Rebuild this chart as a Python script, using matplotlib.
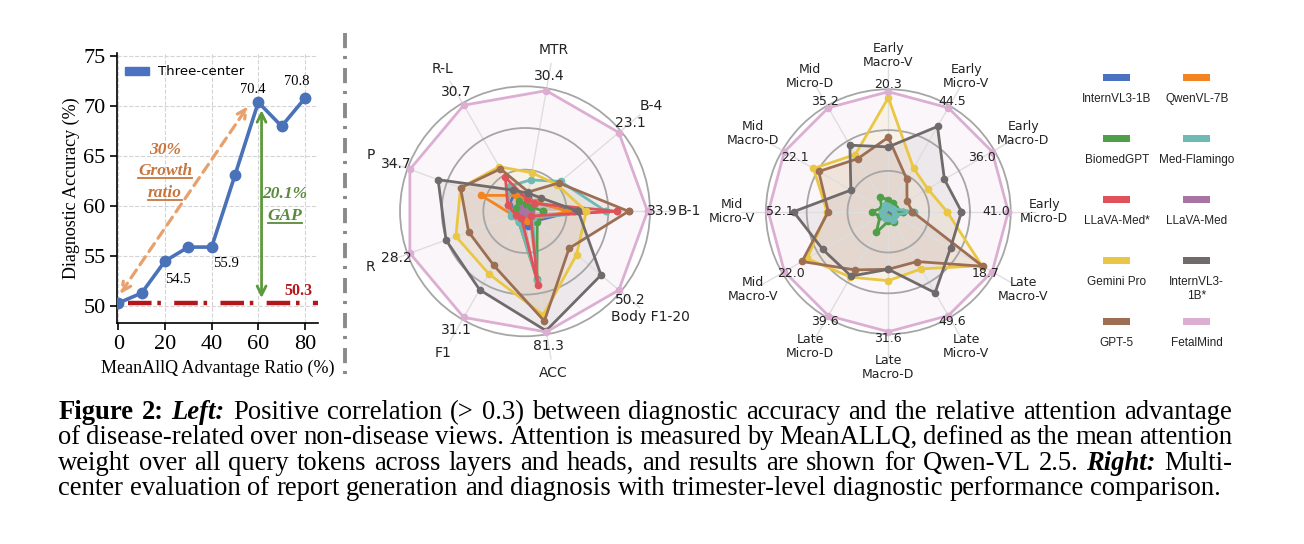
import numpy as np
import matplotlib
matplotlib.use("Agg")
import matplotlib.pyplot as plt
from matplotlib.lines import Line2D
from matplotlib.patches import Patch, Rectangle

W, H = 1304, 544
SERIF = "Liberation Serif"

# ---- left panel: diagnostic accuracy vs MeanAllQ advantage ----
ratio = [0, 10, 20, 30, 40, 50, 60, 70, 80]
accuracy = [50.3, 51.3, 54.5, 55.9, 55.9, 63.1, 70.4, 68.0, 70.8]
baseline = 50.3
labelled = [2, 4, 6, 8]
label_offsets = [(9, -13), (10, -12), (-4, 9), (-6, 12)]

# ---- right panels ----
models = ["InternVL3-1B", "QwenVL-7B", "BiomedGPT", "Med-Flamingo", "LLaVA-Med*",
          "LLaVA-Med", "Gemini Pro", "InternVL3-1B*", "GPT-5", "FetalMind"]
model_colors = ["#4a72c0", "#f28522", "#4e9e4a", "#6fbab4", "#e0525a",
                "#a874a4", "#e9c744", "#716a6a", "#9c6f55", "#dcaed2"]

report_axes = ["B-1", "B-4", "MTR", "R-L", "P", "R", "F1", "ACC", "Body F1-20"]
report_best = [33.9, 23.1, 30.4, 30.7, 34.7, 28.2, 31.1, 81.3, 50.2]

# scores as a fraction of FetalMind on each axis
report_scores = [
    [0.40, 0.11, 0.12, 0.17, 0.14, 0.10, 0.08, 0.12, 0.12],  # InternVL3-1B
    [0.35, 0.12, 0.10, 0.15, 0.38, 0.10, 0.08, 0.08, 0.10],  # QwenVL-7B
    [0.15, 0.06, 0.06, 0.10, 0.08, 0.08, 0.10, 0.56, 0.13],  # BiomedGPT
    [0.66, 0.38, 0.26, 0.24, 0.15, 0.12, 0.10, 0.57, 0.08],  # Med-Flamingo
    [0.75, 0.10, 0.10, 0.32, 0.15, 0.08, 0.06, 0.61, 0.06],  # LLaVA-Med*
    [0.05, 0.03, 0.03, 0.05, 0.05, 0.03, 0.03, 0.05, 0.03],  # LLaVA-Med
    [0.50, 0.34, 0.32, 0.42, 0.56, 0.60, 0.59, 0.86, 0.55],  # Gemini Pro
    [0.435, 0.17, 0.15, 0.20, 0.755, 0.686, 0.74, 0.99, 0.81],  # InternVL3-1B*
    [0.845, 0.36, 0.16, 0.40, 0.56, 0.49, 0.51, 0.91, 0.47],  # GPT-5
    [1.0, 1.0, 1.0, 1.0, 1.0, 1.0, 1.0, 1.0, 1.0],  # FetalMind
]

tri_axes = ["Early\nMicro-D", "Early\nMacro-D", "Early\nMicro-V", "Early\nMacro-V",
            "Mid\nMicro-D", "Mid\nMacro-D", "Mid\nMicro-V", "Mid\nMacro-V",
            "Late\nMicro-D", "Late\nMacro-D", "Late\nMicro-V", "Late\nMacro-V"]
tri_best = [41.0, 36.0, 44.5, 20.3, 35.2, 22.1, 52.1, 22.0, 39.6, 31.6, 49.6, 18.7]

tri_scores = [
    [0.04, 0.03, 0.04, 0.04, 0.03, 0.03, 0.04, 0.03, 0.03, 0.04, 0.03, 0.04],  # InternVL3-1B
    [0.08, 0.05, 0.06, 0.08, 0.05, 0.04, 0.05, 0.05, 0.04, 0.05, 0.05, 0.06],  # QwenVL-7B
    [0.12, 0.06, 0.08, 0.10, 0.14, 0.06, 0.14, 0.08, 0.20, 0.08, 0.10, 0.05],  # BiomedGPT
    [0.21, 0.05, 0.04, 0.05, 0.06, 0.04, 0.05, 0.05, 0.06, 0.05, 0.08, 0.06],  # Med-Flamingo
    [0.03, 0.02, 0.03, 0.04, 0.02, 0.02, 0.02, 0.02, 0.02, 0.02, 0.02, 0.03],  # LLaVA-Med*
    [0.02, 0.02, 0.02, 0.02, 0.02, 0.02, 0.02, 0.02, 0.02, 0.02, 0.02, 0.02],  # LLaVA-Med
    [0.49, 0.38, 0.42, 0.95, 0.55, 0.72, 0.51, 0.78, 0.63, 0.575, 0.55, 0.90],  # Gemini Pro
    [0.61, 0.54, 0.82, 0.54, 0.64, 0.36, 0.79, 0.63, 0.62, 0.48, 0.78, 0.60],  # InternVL3-1B*
    [0.20, 0.18, 0.31, 0.62, 0.51, 0.67, 0.50, 0.83, 0.56, 0.48, 0.48, 0.91],  # GPT-5
    [1.0, 1.0, 1.0, 1.0, 1.0, 1.0, 1.0, 1.0, 1.0, 1.0, 1.0, 1.0],  # FetalMind
]
# value-label radius and small angle nudges (degrees) for the trimester radar
tri_value_r = [0.90, 0.90, 1.06, 1.06, 1.06, 0.90, 0.90, 0.96, 1.06, 1.06, 1.06, 0.96]
tri_value_nudge = [0, 0, 0, 0, 0, 0, 0, 2.2, 0, 0, 0, -2.3]

# drawing order: the faint models go first so teal/green sit on top
report_order = [5, 0, 1, 2, 3, 4, 6, 8, 7, 9]
tri_order = [5, 4, 0, 1, 2, 3, 6, 8, 7, 9]

fig = plt.figure(figsize=(W / 100, H / 100), dpi=100)
renderer = fig.canvas.get_renderer()


def px_box(left, top, right, bottom):
    return [left / W, 1 - bottom / H, (right - left) / W, (bottom - top) / H]


def underline(text_obj, pad=1.5, color="k", lw=1.3):
    bb = text_obj.get_window_extent(renderer)
    y = (bb.y0 + pad) / H
    fig.add_artist(Line2D([bb.x0 / W, bb.x1 / W], [y, y], color=color, lw=lw))


# LEFT LINE CHART
ax = fig.add_axes(px_box(117.3, 53.3, 318, 323))
ax.plot(ratio, accuracy, color="#4a72b8", lw=2.6, marker="o", ms=7.5, zorder=4)
ax.plot([4.3, 86], [baseline, baseline], color="#b3171c", lw=3.2,
        linestyle=(0, (5.3, 1.3, 0.8, 3.0)), zorder=3)
ax.set_xlim(-0.45, 85.6)
ax.set_ylim(48.3, 75.3)
ax.set_xticks([0, 20, 40, 60, 80])
ax.set_yticks([50, 55, 60, 65, 70, 75])
ax.grid(True, ls="--", color="#d4d4d4", lw=0.8)
for s in ["top", "right"]:
    ax.spines[s].set_visible(False)
for s in ["left", "bottom"]:
    ax.spines[s].set_linewidth(1.2)
ax.tick_params(direction="out", length=5, width=1.2, labelsize=16)
for lab in ax.get_xticklabels() + ax.get_yticklabels():
    lab.set_fontfamily(SERIF)
ax.set_xlabel("MeanAllQ Advantage Ratio (%)", fontsize=13, family=SERIF, labelpad=4)
ax.set_ylabel("Diagnostic Accuracy (%)", fontsize=13, family=SERIF, labelpad=2)

for i, off in zip(labelled, label_offsets):
    ax.annotate(f"{accuracy[i]:.1f}", (ratio[i], accuracy[i]), xytext=off,
                textcoords="offset points", ha="center", va="center",
                fontsize=10.5, family=SERIF)

ax.text(77, 51.5, f"{baseline:.1f}", color="#b3171c", fontsize=11.5,
        fontweight="bold", family=SERIF, ha="center", va="center")

ax.annotate("", xy=(55.6, 70.0), xytext=(0.7, 51.2),
            arrowprops=dict(arrowstyle="<->", color="#e8a06c", lw=2.3,
                            linestyle=(0, (3, 2)), mutation_scale=16,
                            shrinkA=0, shrinkB=0))
ax.annotate("", xy=(61.4, 69.6), xytext=(61.4, 50.8),
            arrowprops=dict(arrowstyle="<->", color="#5d9a3b", lw=2.0,
                            mutation_scale=16, shrinkA=0, shrinkB=0))

growth_kw = dict(color="#c7763f", fontsize=12.5, fontweight="bold",
                 fontstyle="italic", family=SERIF, ha="center", va="center")
ax.text(20, 65.6, "30%", **growth_kw)
t_growth = ax.text(20, 63.5, "Growth", **growth_kw)
t_ratio = ax.text(20, 61.3, "ratio", **growth_kw)
gap_kw = dict(color="#5b8a3c", fontsize=12.5, fontweight="bold",
              fontstyle="italic", family=SERIF, ha="center", va="center")
ax.text(71.4, 61.2, "20.1%", **gap_kw)
t_gap = ax.text(71.4, 59.0, "GAP", **gap_kw)

ax.legend(handles=[Patch(color="#4a72c0", label="Three-center")],
          loc="upper left", frameon=False, fontsize=9.5,
          handlelength=1.8, handleheight=0.55, handletextpad=0.7,
          borderaxespad=0.2, bbox_to_anchor=(0.0, 0.985))

underline(t_growth, color="#c7763f")
underline(t_ratio, color="#c7763f")
underline(t_gap, color="#5b8a3c")

# separator
fig.add_artist(Line2D([345 / W, 345 / W], [1 - 33 / H, 1 - 382 / H], color="#8a8a8a",
                      lw=2.8, linestyle=(0, (3.9, 2.0, 0.8, 2.3))))


# RADARS
def draw_radar(rax, names, best, scores, value_r, nudge, name_r, fs, order):
    n = len(names)
    theta = np.linspace(0, 2 * np.pi, n, endpoint=False)
    closed = np.append(theta, theta[0])
    for k in order:
        row, color = scores[k], model_colors[k]
        vals = np.append(row, row[0])
        rax.fill(closed, vals, color=color, alpha=0.1, lw=0)
        rax.plot(closed, vals, color=color, lw=2.0, marker="o", ms=4.5)
    rax.set_ylim(0, 1.23)
    rax.set_thetagrids(np.degrees(theta), [""] * n)
    rax.set_rgrids([0.34, 0.68, 1.02], [""] * 3)
    rax.spines["polar"].set_visible(False)
    rax.xaxis.grid(True, color="#dedede", lw=1.0)
    rax.yaxis.grid(True, color="#a6a6a6", lw=1.3)
    for t, name, v, vr, dn in zip(theta, names, best, value_r, nudge):
        rax.text(t, name_r, name, ha="center", va="center", fontsize=fs,
                 color="#222222", clip_on=False, linespacing=1.1)
        rax.text(t + np.radians(dn), vr, f"{v:.1f}", ha="center", va="center",
                 fontsize=fs, color="#222222", clip_on=False)


r1 = fig.add_axes(px_box(525 - 150.7, 211.3 - 150.7, 525 + 150.7, 211.3 + 150.7),
                  projection="polar")
draw_radar(r1, report_axes, report_best, report_scores,
           [1.12] * len(report_axes), [0] * len(report_axes), 1.34, 10, report_order)

r2 = fig.add_axes(px_box(888.3 - 147.6, 211.7 - 147.6, 888.3 + 147.6, 211.7 + 147.6),
                  projection="polar")
draw_radar(r2, tri_axes, tri_best, tri_scores, tri_value_r, tri_value_nudge,
           1.30, 9, tri_order)

# MODEL LEGEND
col_x = [1116.7, 1196.7]
for i, (name, color) in enumerate(zip(models, model_colors)):
    cx = col_x[i % 2]
    py = 77 + (i // 2) * 61
    fig.add_artist(Rectangle(((cx - 13.5) / W, 1 - (py + 3.5) / H), 27 / W, 7 / H,
                             transform=fig.transFigure, color=color, lw=0))
    label = name.replace("InternVL3-1B*", "InternVL3-\n1B*")
    fig.text(cx / W, 1 - (py + 16) / H, label, ha="center", va="top",
             fontsize=8.5, family="Liberation Sans", color="#222222", linespacing=1.2)

# CAPTION
caption = [
    [("Figure 2:", "bold", "normal"), ("Left:", "bold", "italic"),
     ("Positive correlation (> 0.3) between diagnostic accuracy and the relative attention advantage", "normal", "normal")],
    [("of disease-related over non-disease views. Attention is measured by MeanALLQ, defined as the mean attention", "normal", "normal")],
    [("weight over all query tokens across layers and heads, and results are shown for Qwen-VL 2.5.", "normal", "normal"),
     ("Right:", "bold", "italic"), ("Multi-", "normal", "normal")],
    [("center evaluation of report generation and diagnosis with trimester-level diagnostic performance comparison.", "normal", "normal")],
]
baselines = [418.7, 444.2, 469.7, 495.2]
left_px, right_px = 58.3, 1232
cap_size = 19.2
for li, (segments, base) in enumerate(zip(caption, baselines)):
    words = []
    for text, weight, style in segments:
        for w in text.split(" "):
            words.append(fig.text(0, 1 - base / H, w, fontsize=cap_size, family=SERIF,
                                  fontweight=weight, fontstyle=style, va="baseline"))
    widths = [t.get_window_extent(renderer).width for t in words]
    if li < len(caption) - 1:
        gap = (right_px - left_px - sum(widths)) / (len(words) - 1)
    else:
        gap = 0.25 * cap_size * 100 / 72
    x = left_px
    for t, wd in zip(words, widths):
        t.set_x(x / W)
        x += wd + gap

fig.savefig("out.png", dpi=100)
